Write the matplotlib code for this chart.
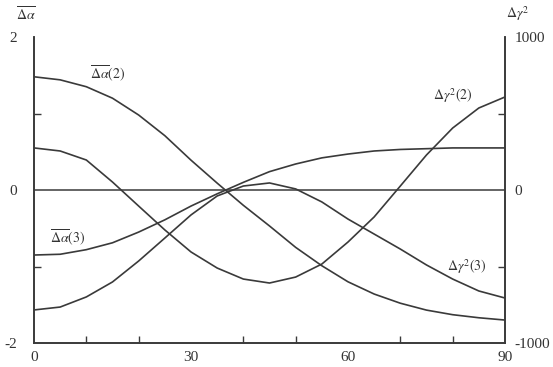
import matplotlib
matplotlib.use("Agg")
import matplotlib.pyplot as plt
from matplotlib.ticker import MultipleLocator, FixedLocator

plt.rcParams['font.family'] = ['Liberation Serif', 'DejaVu Serif']
plt.rcParams['mathtext.fontset'] = 'stix'

theta = [0, 5, 10, 15, 20, 25, 30, 35, 40, 45, 50, 55, 60, 65, 70, 75, 80, 85, 90]
alpha2 = [1.48, 1.44, 1.35, 1.20, 0.98, 0.71, 0.39, 0.09, -0.20, -0.47, -0.75, -0.99,
          -1.20, -1.36, -1.48, -1.57, -1.63, -1.67, -1.70]
alpha3 = [-0.85, -0.84, -0.78, -0.69, -0.55, -0.39, -0.21, -0.05, 0.10, 0.24, 0.34, 0.42,
          0.47, 0.51, 0.53, 0.54, 0.55, 0.55, 0.55]
gamma2 = [275, 255, 196, 52, -105, -261, -405, -510, -582, -608, -569, -484,
          -340, -176, 26, 229, 405, 536, 608]
gamma3 = [-784, -765, -699, -601, -464, -314, -163, -39, 26, 46, 7, -78,
          -190, -288, -386, -490, -582, -660, -706]

x_ticks = [0, 30, 60, 90]
left_ticks = [-2, 0, 2]
right_ticks = [-1000, 0, 1000]

W, H = 553, 367
fig = plt.figure(figsize=(W / 100, H / 100), dpi=100)
ax = fig.add_axes([34 / W, 1 - 343 / H, (505 - 34) / W, (343 - 37) / H])
ax2 = ax.twinx()

lc = '#3a3a3a'
lw = 1.2
ax.plot(theta, alpha2, color=lc, lw=lw)
ax.plot(theta, alpha3, color=lc, lw=lw)
ax2.plot(theta, gamma2, color=lc, lw=lw)
ax2.plot(theta, gamma3, color=lc, lw=lw)
ax.axhline(0, color=lc, lw=1.1)

ax.set_xlim(0, 90)
ax.set_ylim(-2, 2)
ax2.set_ylim(-1000, 1000)

ax.xaxis.set_major_locator(FixedLocator(x_ticks))
ax.xaxis.set_minor_locator(MultipleLocator(10))
ax.yaxis.set_major_locator(FixedLocator(left_ticks))
ax.yaxis.set_minor_locator(MultipleLocator(1))
ax2.yaxis.set_major_locator(FixedLocator(right_ticks))
ax2.yaxis.set_minor_locator(MultipleLocator(500))

for a in (ax, ax2):
    a.spines['top'].set_visible(False)
    for s in a.spines.values():
        s.set_color(lc)
        s.set_linewidth(1.2)
    a.tick_params(which='both', direction='in', color=lc, width=1.0, labelsize=11,
                  labelcolor='#333333')
    a.tick_params(which='major', length=0)
    a.tick_params(which='minor', length=5)

ax.tick_params(axis='y', which='major', pad=12)
ax.tick_params(axis='x', which='major', pad=6)
ax2.tick_params(axis='y', which='major', pad=7)
ax.set_yticklabels([str(v) for v in left_ticks])
ax2.set_yticklabels([str(v) for v in right_ticks])
ax.set_xticklabels([str(v) for v in x_ticks])

tc = '#333333'
fig.text(26 / W, 1 - 14 / H, r'$\overline{\Delta\alpha}$', fontsize=10, color=tc,
         ha='center', va='center')
fig.text(518 / W, 1 - 14 / H, r'$\Delta\gamma^2$', fontsize=10, color=tc,
         ha='center', va='center')
ax.text(14, 1.40, r'$\overline{\Delta\alpha}(2)$', fontsize=10, color=tc, ha='center', va='bottom')
ax.text(6.5, -0.75, r'$\overline{\Delta\alpha}(3)$', fontsize=10, color=tc, ha='center', va='bottom')
ax.text(80, 1.24, r'$\Delta\gamma^2(2)$', fontsize=10, color=tc, ha='center', va='center')
ax.text(82.7, -1.0, r'$\Delta\gamma^2(3)$', fontsize=10, color=tc, ha='center', va='center')

fig.savefig('out.png', dpi=100)
